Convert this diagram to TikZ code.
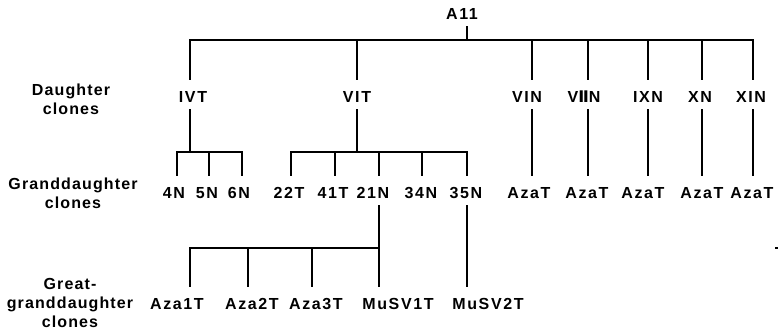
\documentclass[tikz,border=0pt]{standalone}
\usepackage{fontspec}
\newfontfamily\lblfont{Liberation Sans}[LetterSpace=10]
\newfontfamily\capfont{Liberation Sans}[LetterSpace=7]
\newfontfamily\romfont{DejaVu Sans}
\begin{document}
\begin{tikzpicture}[x=1pt,y=-1pt,
  wire/.style={line width=1.4pt, line join=miter},
  lbl/.style={font=\lblfont\bfseries\fontsize{16}{19}\selectfont, inner sep=0pt, outer xsep=0pt, outer ysep=7pt,
              text height=15.5pt, text depth=0pt, anchor=base},
  side/.style={font=\capfont\bfseries\fontsize{16}{19}\selectfont, inner sep=0pt, align=center, anchor=north}]
\useasboundingbox (0,0) rectangle (781,332);

% side captions
\node[side] (capD) at (71,84) {Daughter\\clones};
\node[side] (capG) at (73,178) {Granddaughter\\clones};
\node[side] (capGG) at (70,278) {Great-\\granddaughter\\clones};

% root
\node[lbl] (a11) at (462,19) {A11};

% daughters
\node[lbl] (ivt)  at (193,102) {IVT};
\node[lbl] (vit)  at (357,102) {VIT};
\node[lbl] (vin)  at (527,102) {VIN};
\node[lbl] (viin) at (584,102) {V{\romfont\bfseries Ⅱ}N};
\node[lbl] (ixn)  at (648,102) {IXN};
\node[lbl] (xn)   at (700,102) {XN};
\node[lbl] (xin)  at (751,102) {XIN};

% granddaughters
\node[lbl] (n4)  at (174,198) {4N};
\node[lbl] (n5)  at (207,198) {5N};
\node[lbl] (n6)  at (239,198) {6N};
\node[lbl] (t22) at (289,198) {22T};
\node[lbl] (t41) at (333,198) {41T};
\node[lbl] (n21) at (373,198) {21N};
\node[lbl] (n34) at (421,198) {34N};
\node[lbl] (n35) at (466,198) {35N};
\node[lbl] (az1) at (529,198) {AzaT};
\node[lbl] (az2) at (587,198) {AzaT};
\node[lbl] (az3) at (643,198) {AzaT};
\node[lbl] (az4) at (702,198) {AzaT};
\node[lbl] (az5) at (752,198) {AzaT};

% great-granddaughters
\node[lbl] (aza1)  at (177,309) {Aza1T};
\node[lbl] (aza2)  at (252,309) {Aza2T};
\node[lbl] (aza3)  at (316,309) {Aza3T};
\node[lbl] (musv1) at (398,309) {MuSV1T};
\node[lbl] (musv2) at (488,309) {MuSV2T};

% coordinates on the top bar
\coordinate (r0) at (467,40);
\coordinate (d1) at (190,40);
\coordinate (d2) at (357,40);
\coordinate (d3) at (532,40);
\coordinate (d4) at (588,40);
\coordinate (d5) at (648,40);
\coordinate (d6) at (702,40);
\coordinate (d7) at (753,40);
% granddaughter brackets
\coordinate (j1) at (190,152);
\coordinate (k1) at (177,152);
\coordinate (k2) at (209,152);
\coordinate (k3) at (242,152);
\coordinate (j2) at (357,152);
\coordinate (k4) at (291,152);
\coordinate (k5) at (335,152);
\coordinate (k6) at (379,152);
\coordinate (k7) at (422,152);
\coordinate (k8) at (467,152);
% great-granddaughter bracket
\coordinate (m1) at (190,248);
\coordinate (m2) at (248,248);
\coordinate (m3) at (312,248);
\coordinate (m4) at (379,248);

% root stem and top bar
\draw[wire] (a11.south -| r0) -- (r0);
\draw[wire] (d1 |- ivt.north) -- (d1) -- (d7) -- (d7 |- xin.north);
\draw[wire] (d2) -- (d2 |- vit.north);
\draw[wire] (d3) -- (d3 |- vin.north);
\draw[wire] (d4) -- (d4 |- viin.north);
\draw[wire] (d5) -- (d5 |- ixn.north);
\draw[wire] (d6) -- (d6 |- xn.north);

% daughters to granddaughters
\draw[wire] (d1 |- ivt.south) -- (j1);
\draw[wire] (k1 |- n4.north) -- (k1) -- (k3) -- (k3 |- n6.north);
\draw[wire] (k2) -- (k2 |- n5.north);
\draw[wire] (d2 |- vit.south) -- (j2);
\draw[wire] (k4 |- t22.north) -- (k4) -- (k8) -- (k8 |- n35.north);
\draw[wire] (k5) -- (k5 |- t41.north);
\draw[wire] (k6) -- (k6 |- n21.north);
\draw[wire] (k7) -- (k7 |- n34.north);
\draw[wire] (d3 |- vin.south) -- (d3 |- az1.north);
\draw[wire] (d4 |- viin.south) -- (d4 |- az2.north);
\draw[wire] (d5 |- ixn.south) -- (d5 |- az3.north);
\draw[wire] (d6 |- xn.south) -- (d6 |- az4.north);
\draw[wire] (d7 |- xin.south) -- (d7 |- az5.north);

% granddaughters to great-granddaughters
\draw[wire] (m4 |- n21.south) -- (m4);
\draw[wire] (m1 |- aza1.north) -- (m1) -- (m4) -- (m4 |- musv1.north);
\draw[wire] (m2) -- (m2 |- aza2.north);
\draw[wire] (m3) -- (m3 |- aza3.north);
\draw[wire] (k8 |- n35.south) -- (k8 |- musv2.north);

% small mark at right
\fill (775,247) rectangle (778,249);
\end{tikzpicture}
\end{document}
